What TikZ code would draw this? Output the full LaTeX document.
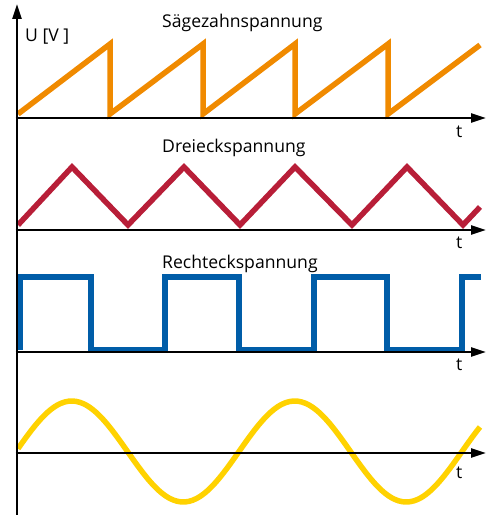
\documentclass[tikz,border=0pt]{standalone}
\usepackage{fontspec}
\setmainfont{Open Sans}
\usetikzlibrary{arrows.meta}
\definecolor{sawcol}{HTML}{F08A00}
\definecolor{tricol}{HTML}{B81E38}
\definecolor{sqcol}{HTML}{005DA8}
\definecolor{sincol}{HTML}{FFD200}
\begin{document}
\begin{tikzpicture}[x=1bp,y=-1bp,
  axis/.style={line width=2.6bp,-{Triangle[length=15bp,width=9bp]}},
  wave/.style={line width=5.5bp,line join=miter},
  lbl/.style={font=\fontsize{17.6bp}{20bp}\selectfont,inner sep=0pt,anchor=base west}]
\useasboundingbox (0,0) rectangle (489,515);
% coordinates for axes
\coordinate (o) at (17,515);
\coordinate (top) at (17,4);
\coordinate (a1s) at (15.7,118); \coordinate (a1e) at (486,118);
\coordinate (a2s) at (15.7,230); \coordinate (a2e) at (486,230);
\coordinate (a3s) at (15.7,352); \coordinate (a3e) at (486,352);
\coordinate (a4s) at (15.7,453); \coordinate (a4e) at (486,453);
% waveforms
\draw[wave,sawcol] (18,114) -- (110,44) -- (110,114) -- (203,44) -- (203,114) -- (295,44) -- (295,114) -- (388,44) -- (388,114) -- (480,45);
\draw[wave,tricol] (18,225) -- (72,167) -- (128,225) -- (184,167) -- (240,225) -- (295,167) -- (352,225) -- (407,167) -- (463,225) -- (480,207);
\draw[wave,sqcol] (20,350) -- (20,277) -- (91,277) -- (91,350) -- (165,350) -- (165,277) -- (239,277) -- (239,350) -- (314,350) -- (314,277) -- (387,277) -- (387,350) -- (462,350) -- (462,277) -- (481,277);
\draw[wave,sincol,line join=round] plot[domain=18:480,samples=120,smooth] (\x,{451.5-50.5*sin(1.61435*(\x-16))});
% axes
\draw[axis] (o) -- (top);
\draw[axis] (a1s) -- (a1e);
\draw[axis] (a2s) -- (a2e);
\draw[axis] (a3s) -- (a3e);
\draw[axis] (a4s) -- (a4e);
% labels
\node[lbl] (ulab) at (25,42) {U [V ]};
\node[lbl] (saw) at (162,28) {Sägezahnspannung};
\node[lbl] (tri) at (162,153) {Dreieckspannung};
\node[lbl] (sq) at (162,268) {Rechteckspannung};
\node[lbl] (t1) at (456,138) {t};
\node[lbl] (t2) at (456,248) {t};
\node[lbl] (t3) at (456,370) {t};
\node[lbl] (t4) at (456,478) {t};
\end{tikzpicture}
\end{document}
